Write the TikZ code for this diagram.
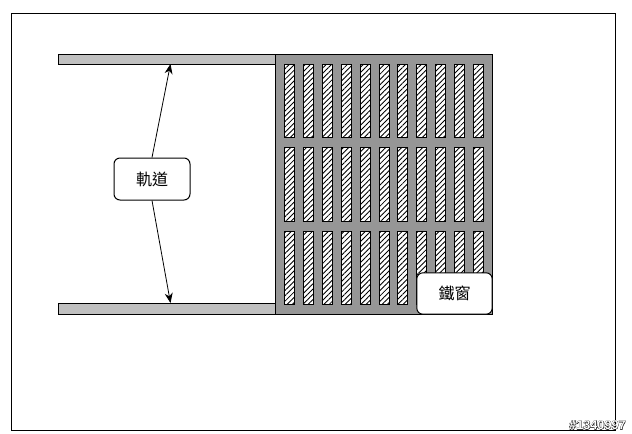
\documentclass[tikz,border=0pt]{standalone}
\usepackage{fontspec}
\newfontfamily\cjk{Noto Sans CJK TC}
\newfontfamily\markfont[FakeBold=5]{Liberation Sans Bold}
\newfontfamily\markfill{Liberation Sans Bold}
\usetikzlibrary{patterns.meta,arrows.meta}
\definecolor{railgray}{HTML}{C0C0C0}
\definecolor{panelgray}{HTML}{969696}
\tikzset{
  line/.style={draw=black,line width=0.75pt},
  labelbox/.style={line,fill=white,rounded corners=4.5pt,font=\cjk\fontsize{12pt}{14pt}\selectfont,inner sep=0pt},
  slat/.style={line,fill=white,postaction={pattern={Lines[angle=45,distance=2.8pt,line width=0.65pt]},pattern color=black}},
  pointer/.style={draw=black,line width=0.6pt,-{Stealth[length=7.5pt,width=6pt]}}
}
\begin{document}
\begin{tikzpicture}[x=0.75pt,y=-0.75pt]
\useasboundingbox (0,0) rectangle (632,433);
\fill[white] (0,0) rectangle (632,433);

% outer frame
\draw[line] (11,13) rectangle (615,430);

% rail section
\filldraw[line,fill=railgray] (58,54) rectangle (275,64);
\filldraw[line,fill=railgray] (58,303) rectangle (275,314);
\coordinate (topRail) at (170.5,64);
\coordinate (bottomRail) at (170.5,303);

% window section
\filldraw[line,fill=panelgray] (275,54) rectangle (492,314);
\foreach \x in {284,303,322,341,360,379,397,416,435,454,473} {
  \draw[slat] (\x,64) rectangle (\x+10,137);
  \draw[slat] (\x,147) rectangle (\x+10,221);
  \draw[slat] (\x,231) rectangle (\x+10,304);
}

% label section
\node[labelbox,minimum width=57pt,minimum height=31.5pt] (railLabel) at (152,179) {軌道};
\node[labelbox,minimum width=56.5pt,minimum height=31pt] (windowLabel) at (454.5,293.5) {鐵窗};
\draw[pointer] (railLabel.north) -- (topRail);
\draw[pointer] (railLabel.south) -- (bottomRail);

% image number
\node[font=\markfont\fontsize{9.5pt}{11pt}\selectfont,text=black,inner sep=0pt] (numberEdge) at (597.5,425) {\#1340997};
\node[font=\markfill\fontsize{9.5pt}{11pt}\selectfont,text=white,inner sep=0pt] (numberFill) at (597.5,425) {\#1340997};

\end{tikzpicture}
\end{document}
